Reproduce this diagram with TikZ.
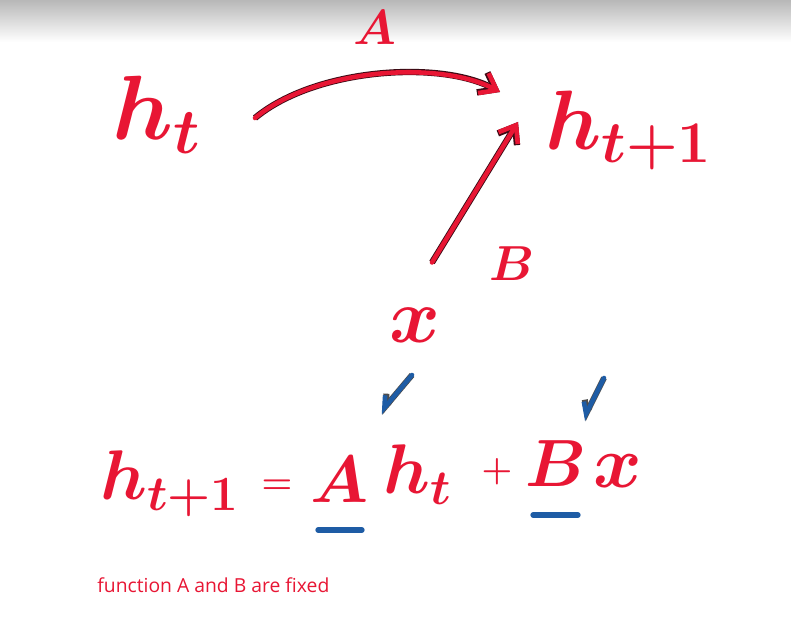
\RequirePackage{fix-cm}
\documentclass[tikz,border=0pt]{standalone}
\usepackage{amsmath,amssymb}
\usepackage{xcolor}
\usepackage{fontspec}
\newfontfamily\notefont{Open Sans}
\usepackage{tikz}
\usetikzlibrary{positioning,arrows.meta,calc}
\definecolor{hwred}{RGB}{232,22,52}
\definecolor{hwblue}{RGB}{30,92,165}
\definecolor{hwink}{RGB}{60,10,20}
\newcommand{\hwsize}[1]{\boldmath\fontsize{#1}{#1}\selectfont}
\tikzset{
  sym/.style={text=hwred, inner sep=0pt, font=\hwsize{52}},
  eqsym/.style={sym, font=\hwsize{40}},
  opsym/.style={sym, font=\hwsize{20}},
  lbl/.style={sym, font=\hwsize{28}},
  flow/.style={-{Straight Barb[length=3mm,width=4.5mm]}, line width=2.6pt,
               color=hwred, line cap=round, line join=round,
               preaction={draw=hwink, line width=3.6pt}},
  pointer/.style={-{Straight Barb[right,length=2mm,width=3mm]}, line width=2.6pt,
               color=hwblue, line cap=round,
               preaction={draw=black!70, line width=3.4pt}},
  uline/.style={line width=3pt, color=hwblue, line cap=round,
                preaction={draw=black!70, line width=3.8pt}},
  note/.style={text=hwred, font=\notefont\fontsize{11}{13}\selectfont, inner sep=0pt},
}
\begin{document}
\begin{tikzpicture}[x=0.02cm, y=-0.02cm]
\useasboundingbox (0,0) rectangle (791,634);
\fill[white] (0,0) rectangle (791,634);
\shade[top color=black!28, bottom color=white] (0,0) rectangle (791,42);

% states and input
\node[sym, anchor=base west] (ht) at (112,140) {$h_t$};
\node[sym, anchor=base west, font=\hwsize{48}] (htp1) at (545,150) {$h_{t+1}$};
\node[sym, font=\hwsize{44}] (x) at (415,325) {$x$};
\node[lbl] (labA) at (375,28) {$A$};
\node[lbl] (labB) at (512,264) {$B$};

\draw[flow] ($(ht.base west)+(143,-22)$) .. controls +(60,-50) and +(-60,-32) .. ($(htp1.base west)+(-45,-58)$);
\draw[flow] ($(x.north)+(17,-45)$) -- ($(htp1.base west)+(-27,-28)$);

% update rule
\node[eqsym, anchor=base west] (eqh) at (100,500) {$h_{t+1}$};
\node[opsym] (eqeq) at (277,487) {$=$};
\node[eqsym, anchor=base, font=\hwsize{38}] (eqA) at (340,502) {$A$};
\node[eqsym, anchor=base west] (eqht) at (383,494) {$h_t$};
\node[opsym] (eqplus) at (497,472) {$+$};
\node[eqsym, anchor=base, font=\hwsize{38}] (eqB) at (556,487) {$B$};
\node[eqsym, anchor=base, font=\hwsize{42}] (eqx) at (618,488) {$x$};

\draw[uline] ($(eqA.base)+(-22,28)$) -- ($(eqA.base)+(22,28)$);
\draw[uline] ($(eqB.base)+(-23,28)$) -- ($(eqB.base)+(22,28)$);

\coordinate (tailA) at (412,375);
\coordinate (tailB) at (604,378);
\draw[pointer] (tailA) -- ($(eqA.base)+(40,-89)$);
\draw[pointer] (tailB) -- ($(eqB.base)+(27,-67)$);

\node[note, anchor=base west] (fixnote) at (97,592) {function A and B are fixed};
\end{tikzpicture}
\end{document}
